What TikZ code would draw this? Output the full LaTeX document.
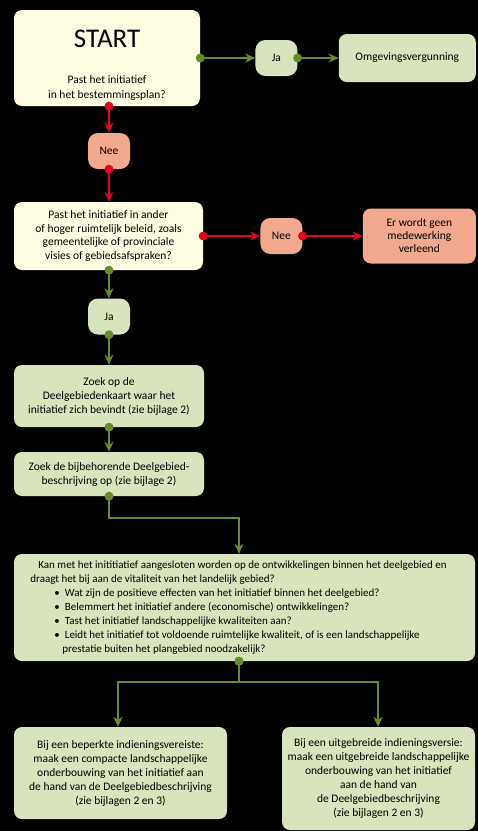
\documentclass[tikz,border=0pt]{standalone}
\usepackage{fontspec}
\setmainfont{Carlito}
\usetikzlibrary{arrows.meta,positioning,decorations.markings}
\definecolor{geelvlak}{HTML}{FFFDE3}
\definecolor{groenvlak}{HTML}{D7E4BD}
\definecolor{roodvlak}{HTML}{F2A98E}
\definecolor{groenlijn}{HTML}{668C2C}
\definecolor{roodlijn}{HTML}{E3051B}
\tikzset{
    vraag/.style={
    rectangle,rounded corners=8pt,fill=geelvlak,inner sep=0pt,align=center,
    font=\fontsize{11.5}{13.5}\selectfont
    },
    stap/.style={
    rectangle,rounded corners=8pt,fill=groenvlak,inner sep=0pt,align=center,
    font=\fontsize{11.5}{14}\selectfont
    },
    jabox/.style={
    rectangle,rounded corners=10pt,fill=groenvlak,inner sep=0pt,align=center,
    minimum width=42pt,minimum height=36pt,font=\fontsize{11.5}{13}\selectfont
    },
    neebox/.style={
    rectangle,rounded corners=10pt,fill=roodvlak,inner sep=0pt,align=center,
    minimum width=42pt,minimum height=36pt,font=\fontsize{11.5}{13}\selectfont
    },
    jaconn/.style={
    draw=groenlijn,line width=1.8pt,-{Stealth[length=10pt,width=9pt]},
    decoration={ markings,
      mark=at position 0 with {\fill[groenlijn] (0,0) circle (4.5pt);}
      },
    postaction={decorate}
    },
    neeconn/.style={
    draw=roodlijn,line width=1.8pt,-{Stealth[length=10pt,width=9pt]},
    decoration={ markings,
      mark=at position 0 with {\fill[roodlijn] (0,0) circle (4.5pt);}
      },
    postaction={decorate}
    },
}
\begin{document}
\begin{tikzpicture}[x=1pt,y=-1pt]
   \fill[black] (0,0) rectangle (478,831);
   \useasboundingbox (0,0) rectangle (478,831);

   \node[vraag,minimum width=186pt,minimum height=96pt,font=\fontsize{11.5}{15}\selectfont] (START) at (107,58)
      {{\fontsize{27}{30}\selectfont\rule{0pt}{31pt}START}\\[21pt]Past het initiatief\\in het bestemmingsplan?};
   \node[jabox] (JA1) [right=55pt of START] {Ja};
   \node[stap,minimum width=137pt,minimum height=48pt] (OMG) [right=41pt of JA1] {Omgevingsvergunning};
   \node[neebox] (NEE1) at (109,151) {Nee};
   \node[vraag,minimum width=189pt,minimum height=68pt] (BELEID) at (108.5,236)
      {Past het initiatief in ander\\of hoger ruimtelijk beleid, zoals\\gemeentelijke of provinciale\\visies of gebiedsafspraken?};
   \node[neebox] (NEE2) [right=57pt of BELEID] {Nee};
   \node[neebox,rounded corners=8pt,minimum width=113pt,minimum height=55pt] (GEEN) [right=60pt of NEE2]
      {Er wordt geen\\medewerking\\verleend};
   \node[jabox] (JA2) at (109,316.5) {Ja};
   \node[stap,minimum width=190pt,minimum height=62pt] (KAART) at (109,396)
      {Zoek op de\\Deelgebiedenkaart waar het\\initiatief zich bevindt (zie bijlage 2)};
   \node[stap,minimum width=190pt,minimum height=44pt] (BESCHR) at (109,474)
      {Zoek de bijbehorende Deelgebied-\\beschrijving op (zie bijlage 2)};
   \node[stap,align=left,minimum width=461pt,minimum height=107pt,
         font=\fontsize{11}{14}\selectfont] (TOETS) at (244.5,607.5)
      {\hspace*{8pt}Kan met het inititiatief aangesloten worden op de ontwikkelingen binnen het deelgebied en\hspace*{12pt}\\
       draagt het bij aan de vitaliteit van het landelijk gebied?\\
       \hspace*{24pt}\textbullet\hspace{5pt}Wat zijn de positieve effecten van het initiatief binnen het deelgebied?\\
       \hspace*{24pt}\textbullet\hspace{5pt}Belemmert het initiatief andere (economische) ontwikkelingen?\\
       \hspace*{24pt}\textbullet\hspace{5pt}Tast het initiatief landschappelijke kwaliteiten aan?\\
       \hspace*{24pt}\textbullet\hspace{5pt}Leidt het initiatief tot voldoende ruimtelijke kwaliteit, of is een landschappelijke\\
       \hspace*{32pt}prestatie buiten het plangebied noodzakelijk?};
   \node[stap,minimum width=213pt,minimum height=92pt] (BEPERKT) at (120.5,773)
      {Bij een beperkte indieningsvereiste:\\maak een compacte landschappelijke\\onderbouwing van het initiatief aan\\de hand van de Deelgebiedbeschrijving\\(zie bijlagen 2 en 3)};
   \node[stap,minimum width=193pt,minimum height=103pt] (UITGEBR) at (378.5,778.5)
      {Bij een uitgebreide indieningsversie:\\maak een uitgebreide landschappelijke\\onderbouwing van het initiatief\\aan de hand van\\de Deelgebiedbeschrijving\\(zie bijlagen 2 en 3)};

  \path
             (START.east)  edge [jaconn]   (JA1.west)
             (JA1.east)    edge [jaconn]   (OMG.west)
             (START.south -| NEE1) edge [neeconn] (NEE1.north)
             (NEE1.south)  edge [neeconn]  (BELEID.north -| NEE1)
             (BELEID.east) edge [neeconn]  (NEE2.west)
             (NEE2.east)   edge [neeconn]  (GEEN.west)
             (BELEID.south -| JA2) edge [jaconn] (JA2.north)
             (JA2.south)   edge [jaconn]   (KAART.north)
             (KAART.south) edge [jaconn]   (BESCHR.north);
  \draw[jaconn] (BESCHR.south) -- ++(0,22) -| ([xshift=-5.5pt]TOETS.north);
  \draw[jaconn] ([xshift=-5.5pt]TOETS.south) -- ++(0,21) -| ([xshift=-2.5pt]BEPERKT.north);
  \draw[jaconn] ([xshift=-5.5pt]TOETS.south) -- ++(0,21) -| ([xshift=-0.5pt]UITGEBR.north);
\end{tikzpicture}
\end{document}
